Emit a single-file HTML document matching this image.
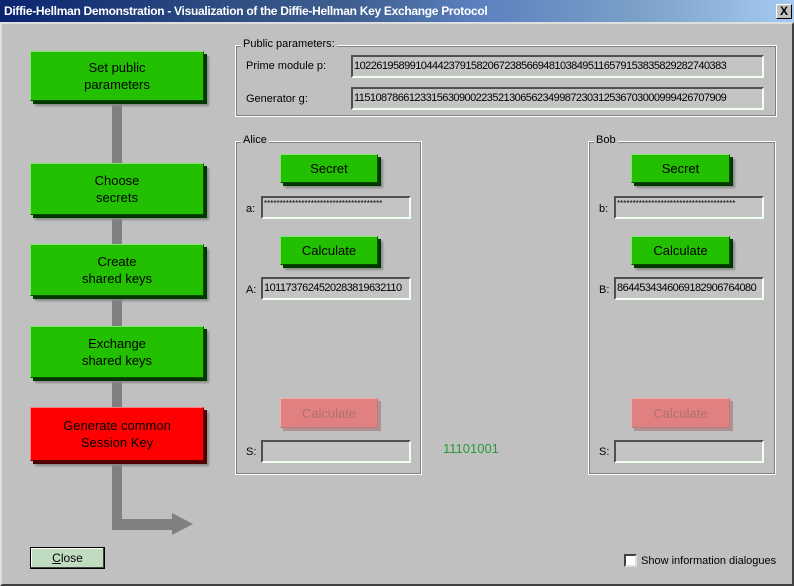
<!DOCTYPE html>
<html><head><meta charset="utf-8"><style>
*{box-sizing:border-box;margin:0;padding:0}
body{width:794px;height:586px;background:#c0c0c0;font-family:"Liberation Sans",sans-serif;font-size:11px;color:#000;position:relative;overflow:hidden}
.a{position:absolute}
#title{left:0;top:0;width:794px;height:22px;background:linear-gradient(90deg,#0a2470 0%,#2a4a80 25%,#3f6090 45%,#5a80c0 60%,#7aa0c8 80%,#a6caf0 100%);color:#fff;font-weight:bold;font-size:12px;line-height:22px;padding-left:4px;letter-spacing:-0.3px}
#x{left:776px;top:4px;width:16px;height:15px;background:#c0c0c0;border:1px solid;border-color:#fff #000 #000 #fff;color:#000;font-size:12px;font-weight:bold;text-align:center;line-height:13px}
.frame{left:0;top:22px;width:794px;height:564px;border:2px solid;border-color:#dfdfdf #404040 #404040 #dfdfdf}
.gb{background:#22c000;border:1px solid;border-color:#7ee86a #0a4a00 #0a4a00 #7ee86a;box-shadow:3px 3px 0 #003800,5px 5px 2px #8a8a8a;text-align:center;font-size:13px;color:#000;display:flex;align-items:center;justify-content:center;line-height:17px}
.red{background:#ff0000;border-color:#ff8080 #600000 #600000 #ff8080;box-shadow:3px 3px 0 #500000,5px 5px 2px #8a8a8a}
.dis{background:#e08080;border-color:#f0b0a0 #b08080 #b08080 #f0b0a0;box-shadow:3px 3px 0 #b09090;color:#b07070}
.grp{border:1px solid #fff;outline:1px solid #808080;outline-offset:-2px}
.lg{background:#c0c0c0;padding:0 2px;font-size:11px}
.fld{background:#c4c4c4;border:2px solid;border-color:#505050 #f0fff0 #f0fff0 #505050;font-size:11px;line-height:18px;padding-left:1px;white-space:nowrap;overflow:hidden;letter-spacing:-0.55px}
.bar{background:#808080}
</style></head><body>
<div class="a frame"></div>
<div class="a" id="title">Diffie-Hellman Demonstration - Visualization of the Diffie-Hellman Key Exchange Protocol</div>
<div class="a" id="x">X</div>

<div class="a bar" style="left:112px;top:101px;width:10px;height:429px"></div>
<div class="a bar" style="left:112px;top:519px;width:62px;height:11px"></div>
<div class="a" style="left:172px;top:513px;width:0;height:0;border-top:11px solid transparent;border-bottom:11px solid transparent;border-left:21px solid #808080"></div>

<div class="a gb" style="left:30px;top:51px;width:174px;height:50px">Set public<br>parameters</div>
<div class="a gb" style="left:30px;top:163px;width:174px;height:52px">Choose<br>secrets</div>
<div class="a gb" style="left:30px;top:244px;width:174px;height:52px">Create<br>shared keys</div>
<div class="a gb" style="left:30px;top:326px;width:174px;height:52px">Exchange<br>shared keys</div>
<div class="a gb red" style="left:30px;top:407px;width:174px;height:54px">Generate common<br>Session Key</div>

<div class="a grp" style="left:235px;top:45px;width:542px;height:72px"></div>
<div class="a lg" style="left:241px;top:38px">Public parameters:</div>
<div class="a" style="left:246px;top:60px">Prime module p:</div>
<div class="a fld" style="left:351px;top:55px;width:413px;height:23px">1022619589910444237915820672385669481038495116579153835829282740383</div>
<div class="a" style="left:246px;top:93px">Generator g:</div>
<div class="a fld" style="left:351px;top:87px;width:413px;height:23px">1151087866123315630900223521306562349987230312536703000999426707909</div>

<div class="a grp" style="left:235px;top:141px;width:187px;height:334px"></div>
<div class="a lg" style="left:241px;top:134px">Alice</div>
<div class="a gb" style="left:280px;top:154px;width:98px;height:29px">Secret</div>
<div class="a" style="left:246px;top:203px">a:</div>
<div class="a fld" style="left:261px;top:196px;width:150px;height:23px;font-size:8px;line-height:12px;letter-spacing:0">**************************************</div>
<div class="a gb" style="left:280px;top:236px;width:98px;height:29px">Calculate</div>
<div class="a" style="left:246px;top:284px">A:</div>
<div class="a fld" style="left:261px;top:277px;width:150px;height:23px">1011737624520283819632110</div>
<div class="a gb dis" style="left:280px;top:398px;width:98px;height:30px">Calculate</div>
<div class="a" style="left:246px;top:446px">S:</div>
<div class="a fld" style="left:261px;top:440px;width:150px;height:23px"></div>

<div class="a" style="left:443px;top:441px;color:#2a9a3a;font-size:13px">11101001</div>

<div class="a grp" style="left:588px;top:141px;width:188px;height:334px"></div>
<div class="a lg" style="left:594px;top:134px">Bob</div>
<div class="a gb" style="left:631px;top:154px;width:99px;height:29px">Secret</div>
<div class="a" style="left:599px;top:203px">b:</div>
<div class="a fld" style="left:614px;top:196px;width:150px;height:23px;font-size:8px;line-height:12px;letter-spacing:0">**************************************</div>
<div class="a gb" style="left:631px;top:236px;width:99px;height:29px">Calculate</div>
<div class="a" style="left:599px;top:284px">B:</div>
<div class="a fld" style="left:614px;top:277px;width:150px;height:23px">8644534346069182906764080</div>
<div class="a gb dis" style="left:631px;top:398px;width:99px;height:30px">Calculate</div>
<div class="a" style="left:599px;top:446px">S:</div>
<div class="a fld" style="left:614px;top:440px;width:150px;height:23px"></div>

<div class="a" style="left:30px;top:547px;width:75px;height:22px;background:#c0dcc0;border:1px solid #000;box-shadow:inset -1px -1px 0 #404040,inset 1px 1px 0 #fff;text-align:center;line-height:20px;font-size:12px"><u>C</u>lose</div>
<div class="a" style="left:624px;top:554px;width:13px;height:13px;background:#fff;border:2px solid;border-color:#404040 #e0e0e0 #e0e0e0 #404040"></div>
<div class="a" style="left:641px;top:555px;font-size:11px">Show information dialogues</div>
</body></html>
